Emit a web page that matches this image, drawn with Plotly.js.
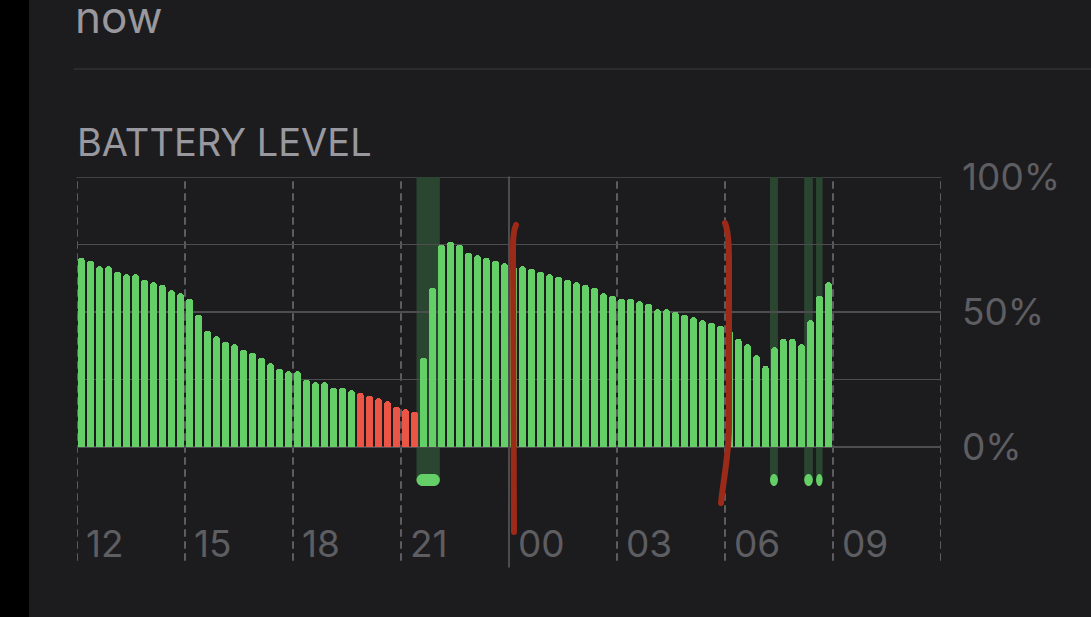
<!DOCTYPE html>
<html><head><meta charset="utf-8">
<script src="https://cdn.plot.ly/plotly-3.0.1.min.js"></script>
<style>html,body{margin:0;padding:0;background:#1c1c1e;overflow:hidden;}</style>
</head><body><div id="chart" style="width:1091px;height:617px;"></div>
<script>
// ---- data ----
const levels = [70, 69, 67, 67, 65, 64, 64, 62, 61, 60, 58, 57, 55,
  49, 43, 41, 39, 38, 36, 35, 33, 31, 29, 28, 28, 25, 24, 24, 22, 22, 21,
  20, 19, 18, 17, 15, 14, 13,
  33, 59, 75, 76, 75, 72, 71, 70, 69, 68,
  67, 67, 66, 65, 64, 63, 62, 61, 60, 59, 57, 56,
  55, 55, 54, 53, 51, 51, 50, 49, 48, 47, 46, 45,
  43, 40, 38, 34, 30, 37, 40, 40, 38, 47, 56, 61];
const intervalHours = 0.25;              // one bar per 15 minutes, from 12:00
const chargeStart = [9.43, 19.25, 20.20, 20.53];   // hours after 12:00
const chargeEnd   = [10.08, 19.47, 20.44, 20.71];
const xTickHours  = [0, 3, 6, 9, 12, 15, 18, 21];
const xTickLabels = ['12', '15', '18', '21', '00', '03', '06', '09'];
const gridHours   = [0, 3, 6, 9, 12, 15, 18, 21, 24];
const midnightHour = 12;
const yTickVals = [0, 25, 50, 75, 100];
const yTickText = ['0%', '', '50%', '', '100%'];
const lowThreshold = 20;

// ---- geometry ----
const W = 1091, H = 617, L = 77, R = 150, T = 177, B = 57;
const plotW = W - L - R, plotH = H - T - B;
const xMax = 24;
const zeroPx = 447;
const pxPerPct = (zeroPx - T) / 100;
const yMin = -(H - B - zeroPx) / pxPerPct;
const pxPerHour = plotW / xMax;
const hx = px => (px - L) / pxPerHour;
const vy = py => (zeroPx - py) / pxPerPct;
const paperX = px => (px - L) / plotW;
const paperY = py => (H - B - py) / plotH;

const GREEN = '#63cf66', RED = '#eb5545', SHADE = '#2a4630';
const GRID = '#4e4e51', VGRID = '#5c5c60', STROKE = '#9c2a19';
const FONT = 'Inter, "Liberation Sans", sans-serif';

const xs = levels.map((_, i) => (i + 0.5) * intervalHours);
const colors = levels.map(v => v <= lowThreshold ? RED : GREEN);

const bars = {
  type: 'bar', x: xs, y: levels,
  width: 6.6 / pxPerHour,
  marker: {color: colors, cornerradius: 3, line: {width: 0}},
  hoverinfo: 'skip'
};

const shapes = [];
// left black strip
shapes.push({type: 'rect', xref: 'paper', yref: 'paper', x0: paperX(0), x1: paperX(29),
  y0: paperY(H), y1: paperY(0), fillcolor: '#000', line: {width: 0}, layer: 'below'});
// separator line
shapes.push({type: 'line', xref: 'paper', yref: 'paper', x0: paperX(74), x1: paperX(W),
  y0: paperY(69), y1: paperY(69), line: {color: '#3a3a3c', width: 1}});
// charging shades
const pillC = vy(480), pillH = 12;
chargeStart.forEach((s, i) => {
  shapes.push({type: 'rect', xref: 'x', yref: 'y', x0: s, x1: chargeEnd[i], y0: pillC, y1: 100,
    fillcolor: SHADE, line: {width: 0}, layer: 'below'});
});
// top gridline (range edge)
shapes.push({type: 'line', xref: 'paper', yref: 'y', x0: 0, x1: 1, y0: 100, y1: 100,
  line: {color: GRID, width: 1.5}, layer: 'below'});
// vertical grid
gridHours.forEach(h => {
  if (h === midnightHour) {
    shapes.push({type: 'line', xref: 'x', yref: 'paper', x0: h, x1: h, y0: paperY(567), y1: 1,
      line: {color: VGRID, width: 1.5}, layer: 'below'});
  } else {
    shapes.push({type: 'line', xref: 'x', yref: 'paper', x0: h, x1: h, y0: 0, y1: 1,
      line: {color: VGRID, width: 2, dash: '6px,6px'}, layer: 'below'});
  }
});
// charging pills
function pill(x0, x1, yc, hpx, rpx) {
  const k = 0.5523;
  const wpx = (x1 - x0) * pxPerHour;
  const rx = Math.min(rpx, wpx / 2) / pxPerHour;
  const ry = (hpx / 2) / pxPerPct;
  const yT = yc + ry, yB = yc - ry;
  return `M${x0 + rx},${yT} L${x1 - rx},${yT} ` +
    `C${x1 - rx + k * rx},${yT} ${x1},${yc + k * ry} ${x1},${yc} ` +
    `C${x1},${yc - k * ry} ${x1 - rx + k * rx},${yB} ${x1 - rx},${yB} ` +
    `L${x0 + rx},${yB} ` +
    `C${x0 + rx - k * rx},${yB} ${x0},${yc - k * ry} ${x0},${yc} ` +
    `C${x0},${yc + k * ry} ${x0 + rx - k * rx},${yT} ${x0 + rx},${yT} Z`;
}
chargeStart.forEach((s, i) => {
  shapes.push({type: 'path', xref: 'x', yref: 'y', path: pill(s, chargeEnd[i], pillC, pillH, 6),
    fillcolor: GREEN, line: {width: 0}, layer: 'above'});
});
// hand-drawn red marks
const P = (px, py) => `${hx(px)},${vy(py)}`;
const stroke1 = `M${P(516, 225)} C${P(514, 229)} ${P(513, 236)} ${P(513, 248)} L${P(514, 532)}`;
const stroke2 = `M${P(725, 223)} C${P(728, 230)} ${P(729, 240)} ${P(729, 262)} L${P(729, 425)} C${P(729, 455)} ${P(723, 482)} ${P(721, 503)}`;
[stroke1, stroke2].forEach(p => shapes.push({type: 'path', xref: 'x', yref: 'y', path: p,
  line: {color: STROKE, width: 6}, layer: 'above'}));

const annotations = [];
annotations.push({xref: 'paper', yref: 'paper', x: paperX(73), y: paperY(17), xanchor: 'left', yanchor: 'middle',
  text: 'now', showarrow: false, font: {family: FONT, size: 44, color: '#98989e'}});
annotations.push({xref: 'paper', yref: 'paper', x: paperX(75), y: paperY(142), xanchor: 'left', yanchor: 'middle',
  text: 'BATTERY LEVEL', showarrow: false, font: {family: FONT, size: 38, color: '#98989e'}});
xTickHours.forEach((h, i) => annotations.push({xref: 'x', yref: 'y', x: h, y: vy(543.5),
  xanchor: 'left', yanchor: 'middle', xshift: 7, text: xTickLabels[i], showarrow: false,
  font: {family: FONT, size: 37, color: '#5e5e62'}}));

const layout = {
  width: W, height: H,
  margin: {l: L, r: R, t: T, b: B, pad: 0},
  paper_bgcolor: '#1c1c1e', plot_bgcolor: '#1c1c1e',
  showlegend: false, bargap: 0,
  xaxis: {range: [0, xMax], showgrid: false, zeroline: false, showticklabels: false,
    ticks: '', showline: false, fixedrange: true},
  yaxis: {range: [yMin, 100], side: 'right', tickvals: yTickVals, ticktext: yTickText,
    showgrid: true, gridcolor: GRID, gridwidth: 1.5, zeroline: false, ticks: '',
    ticklabelstandoff: 20, showline: false, fixedrange: true,
    tickfont: {family: FONT, size: 37, color: '#5e5e62'}},
  shapes: shapes, annotations: annotations
};
Plotly.newPlot('chart', [bars], layout, {staticPlot: true, displayModeBar: false}).then(() => {
  document.querySelectorAll('.shapelayer path').forEach(p => {
    p.style.strokeLinecap = 'round';
  });
});
</script></body></html>
